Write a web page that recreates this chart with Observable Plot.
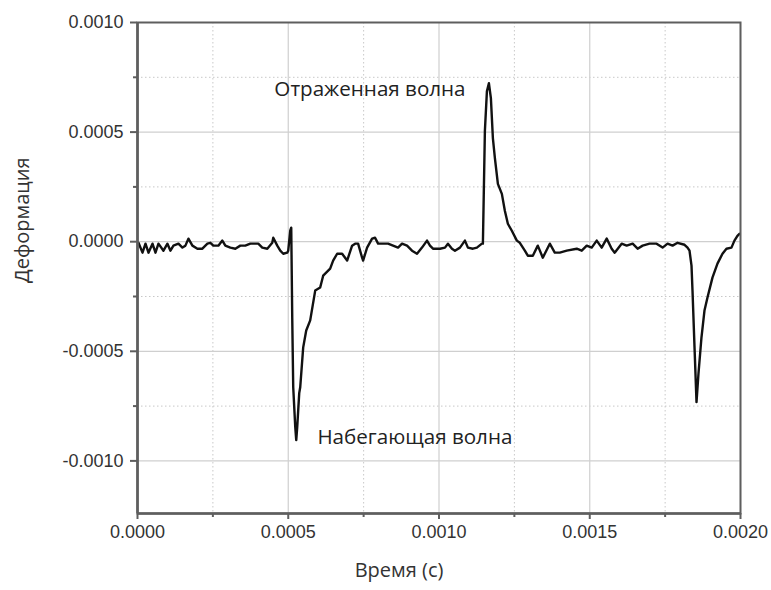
<!DOCTYPE html>
<html>
<head>
<meta charset="utf-8">
<script src="https://cdn.jsdelivr.net/npm/d3@7"></script>
<script src="https://cdn.jsdelivr.net/npm/@observablehq/plot@0.6"></script>
<style>
  html, body { margin: 0; padding: 0; background: #fff; }
  #chart svg { display: block; }
</style>
</head>
<body>
<div id="chart"></div>
<script>
// Strain gauge record: time (s) and strain
const timeS = [
  0.0000033, 0.0000166, 0.0000265, 0.0000364, 0.0000497, 0.0000596, 0.0000695, 0.0000861,
  0.0000993, 0.0001093, 0.0001192, 0.0001358, 0.000149, 0.0001589, 0.0001689, 0.0001821,
  0.0001987, 0.0002152, 0.0002318, 0.0002417, 0.0002516, 0.0002682, 0.0002814, 0.0002914,
  0.0003079, 0.0003245, 0.000341, 0.0003576, 0.0003742, 0.0003907, 0.0004006, 0.0004139,
  0.0004305, 0.000447, 0.0004503, 0.0004636, 0.0004735, 0.0004834, 0.0004967, 0.0005,
  0.0005066, 0.0005099, 0.0005132, 0.0005165, 0.0005232, 0.0005265, 0.0005298, 0.0005364,
  0.0005397, 0.0005496, 0.0005596, 0.0005728, 0.0005894, 0.0006059, 0.0006158, 0.000639,
  0.0006489, 0.0006622, 0.0006787, 0.0006953, 0.0007118, 0.0007218, 0.0007317, 0.000745,
  0.0007483, 0.0007615, 0.0007781, 0.000788, 0.000798, 0.0008145, 0.0008311, 0.0008476,
  0.0008642, 0.0008774, 0.000894, 0.0009105, 0.0009271, 0.0009436, 0.0009602, 0.0009701,
  0.00098, 0.0010032, 0.0010198, 0.0010297, 0.001043, 0.0010529, 0.0010695, 0.001086,
  0.0010959, 0.0011125, 0.0011257, 0.0011423, 0.0011456, 0.0011522, 0.0011589, 0.0011655,
  0.0011721, 0.0011787, 0.0011853, 0.0011953, 0.0012085, 0.0012184, 0.0012284, 0.0012416,
  0.0012582, 0.0012681, 0.0012847, 0.0012946, 0.0013112, 0.0013277, 0.0013443, 0.0013675,
  0.001384, 0.0014006, 0.0014237, 0.0014568, 0.0014734, 0.00149, 0.0015065, 0.0015231,
  0.0015396, 0.0015562, 0.0015727, 0.0015827, 0.0016058, 0.0016224, 0.0016423, 0.0016588,
  0.0016754, 0.0016985, 0.0017217, 0.0017416, 0.0017581, 0.0017747, 0.0017912, 0.0018144,
  0.0018243, 0.0018309, 0.0018375, 0.0018408, 0.0018475, 0.0018541, 0.0018607, 0.0018706,
  0.0018805, 0.0018905, 0.001907, 0.0019236, 0.0019402, 0.0019534, 0.00197, 0.0019799,
  0.0019898, 0.0019964
];
const strain = [
  -0.0000045, -0.000050, -0.000009, -0.000050, -0.000009, -0.000050, -0.000009, -0.000041,
  -0.000009, -0.000041, -0.000018, -0.000009, -0.000027, -0.000018, 0.000014, -0.000018,
  -0.000032, -0.000032, -0.000009, -0.000005, -0.000018, -0.000018, 0.000005, -0.000018,
  -0.000027, -0.000032, -0.000018, -0.000018, -0.000009, -0.000009, -0.000009, -0.000027,
  -0.000032, -0.000005, 0.000018, -0.000018, -0.000041, -0.000055, -0.000050, -0.000041,
  0.000050, 0.000064, -0.000345, -0.000664, -0.000845, -0.000905, -0.000845, -0.000691,
  -0.000664, -0.000482, -0.000405, -0.000359, -0.000223, -0.000209, -0.000155, -0.000123,
  -0.000086, -0.000055, -0.000055, -0.000086, -0.000018, -0.000009, -0.000009, -0.000073,
  -0.000086, -0.000027, 0.000014, 0.000018, -0.000009, -0.000009, -0.000009, -0.000018,
  -0.000027, -0.000009, -0.000018, -0.000041, -0.000055, -0.000027, 0.000005, -0.000018,
  -0.000032, -0.000032, -0.000027, -0.000009, -0.000032, -0.000041, -0.000027, 0.000005,
  -0.000027, -0.000032, -0.000027, -0.000009, -0.000009, 0.000505, 0.000686, 0.000723,
  0.000655, 0.000473, 0.000382, 0.000264, 0.000218, 0.000141, 0.000082, 0.000050,
  0.000005, -0.000005, -0.000041, -0.000064, -0.000064, -0.000018, -0.000073, -0.000009,
  -0.000050, -0.000050, -0.000041, -0.000032, -0.000041, -0.000018, -0.000027, 0.000005,
  -0.000027, 0.000014, -0.000032, -0.000050, -0.000009, -0.000018, -0.000009, -0.000032,
  -0.000018, -0.000009, -0.000009, -0.000027, -0.000009, -0.000018, -0.000005, -0.000014,
  -0.000027, -0.000041, -0.000109, -0.000223, -0.000482, -0.000732, -0.000600, -0.000436,
  -0.000314, -0.000255, -0.000164, -0.000100, -0.000055, -0.000032, -0.000027, 0.000005,
  0.000027, 0.000036
];

const xMajor = [0, 0.0005, 0.0010, 0.0015, 0.0020];
const xMinor = [0.00025, 0.00075, 0.00125, 0.00175];
const yMajor = [-0.0010, -0.0005, 0.0000, 0.0005, 0.0010];
const yMinor = [-0.00075, -0.00025, 0.00025, 0.00075];

const xTitle = "Время (с)";
const yTitle = "Деформация";
const notes = [
  {t: 0.000771, v: 0.000695, label: "Отраженная волна"},
  {t: 0.000920, v: -0.000891, label: "Набегающая волна"}
];

const series = timeS.map((t, i) => ({t, v: strain[i]}));
const fmt = d => (Math.abs(d) < 1e-12 ? 0 : d).toFixed(4);
const frameColor = "#5e5e5e";

const chart = Plot.plot({
  width: 771,
  height: 590,
  marginLeft: 137,
  marginRight: 31,
  marginTop: 22,
  marginBottom: 77,
  style: {fontFamily: "'Liberation Sans', Arial, sans-serif", fontSize: "18px", color: "#333", background: "#fff"},
  x: {domain: [0, 0.0020]},
  y: {domain: [-0.00124, 0.0010]},
  marks: [
    // grid: dotted at minor ticks, solid at major ticks
    Plot.ruleX(xMinor, {stroke: "#c8c8c8", strokeWidth: 1, strokeDasharray: "1.5,2.5"}),
    Plot.ruleY(yMinor, {stroke: "#c8c8c8", strokeWidth: 1, strokeDasharray: "1.5,2.5"}),
    Plot.ruleX(xMajor, {stroke: "#cfcfcf", strokeWidth: 1.2}),
    Plot.ruleY(yMajor, {stroke: "#cfcfcf", strokeWidth: 1.2}),
    // signal
    Plot.line(series, {x: "t", y: "v", stroke: "#111", strokeWidth: 2.4, strokeLinejoin: "round"}),
    // axes
    Plot.axisX({ticks: xMajor, tickFormat: fmt, tickSize: 6, tickPadding: 6, stroke: frameColor, strokeWidth: 2, label: null, fontSize: 18}),
    Plot.axisX({ticks: xMinor, tickFormat: () => "", tickSize: 4, stroke: frameColor, strokeWidth: 2, label: null}),
    Plot.axisY({ticks: yMajor, tickFormat: fmt, tickSize: 7, tickPadding: 7, stroke: frameColor, strokeWidth: 2, label: null, fontSize: 18}),
    Plot.axisY({ticks: yMinor, tickFormat: () => "", tickSize: 4, stroke: frameColor, strokeWidth: 2, label: null}),
    Plot.frame({stroke: frameColor, strokeWidth: 2}),
    // heavier left and bottom axis lines
    Plot.ruleX([0], {stroke: frameColor, strokeWidth: 2.6}),
    Plot.ruleY([-0.00124], {stroke: frameColor, strokeWidth: 2.6}),
    // axis titles
    Plot.text([xTitle], {text: d => d, frameAnchor: "bottom", dx: -40, dy: 63, fontFamily: "'Open Sans', sans-serif", fontSize: 20, fill: "#333"}),
    Plot.text([yTitle], {text: d => d, frameAnchor: "left", rotate: -90, dx: -115, dy: 15, fontFamily: "'Open Sans', sans-serif", fontSize: 20, fill: "#333"}),
    // annotations
    Plot.text(notes, {x: "t", y: "v", text: "label", fontFamily: "'Open Sans', sans-serif", fontSize: 20.6, fill: "#222"})
  ]
});

document.getElementById("chart").appendChild(chart);
</script>
</body>
</html>
